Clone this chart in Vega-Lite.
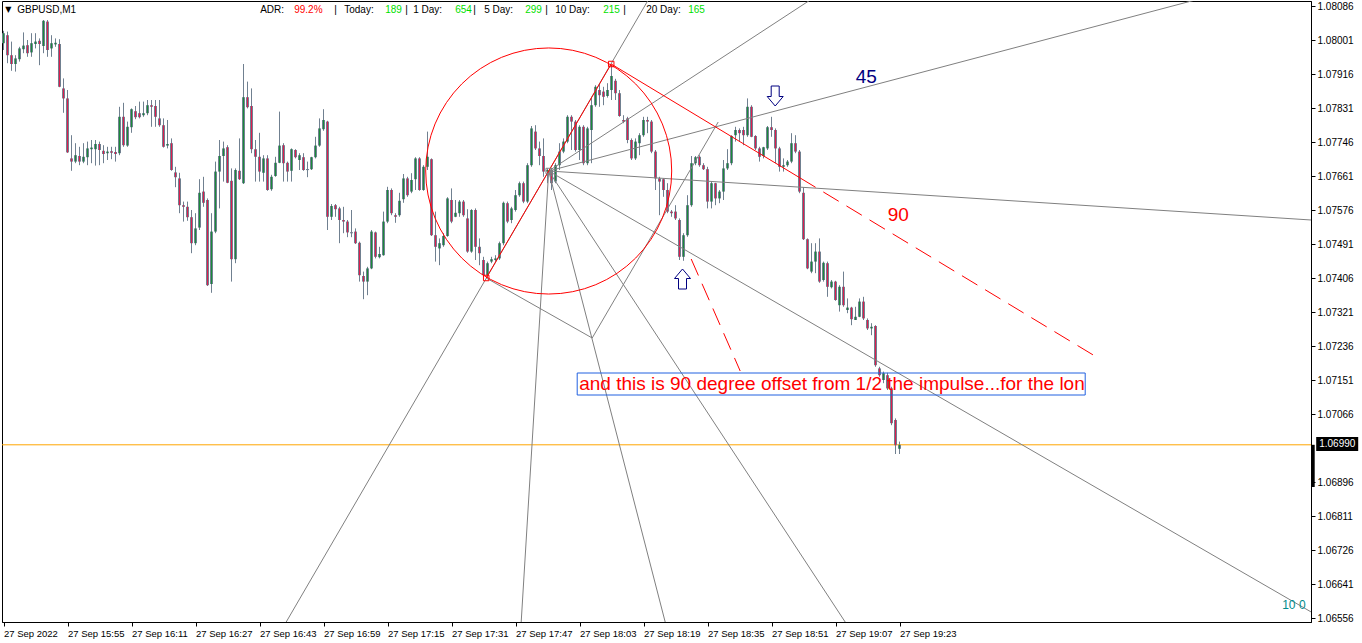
{
"$schema":"https://vega.github.io/schema/vega-lite/v6.json",
"width":1309,"height":621,
"autosize":{"type":"none"},
"padding":{"left":2,"top":1,"right":51,"bottom":21},
"background":"white",
"config":{"view":{"stroke":"black","strokeWidth":1},"scale":{"continuousPadding":0},"font":"Liberation Sans","axis":{"grid":false,"labelFont":"Liberation Sans","labelFontSize":10,"labelColor":"black","tickColor":"black","domainColor":"black","tickSize":4,"labelPadding":2,"labelFlush":false,"labelOverlap":false}},
"datasets":{
"candles":[
{"i":0,"o":1.07994,"h":1.08025,"l":1.07977,"c":1.08019},
{"i":1,"o":1.08014,"h":1.08023,"l":1.07944,"c":1.07964},
{"i":2,"o":1.07964,"h":1.07998,"l":1.07925,"c":1.07942},
{"i":3,"o":1.07942,"h":1.07964,"l":1.07923,"c":1.07956},
{"i":4,"o":1.07954,"h":1.07985,"l":1.07948,"c":1.07981},
{"i":5,"o":1.07979,"h":1.08021,"l":1.07969,"c":1.07988},
{"i":6,"o":1.07989,"h":1.08002,"l":1.0796,"c":1.07969},
{"i":7,"o":1.07971,"h":1.08019,"l":1.0796,"c":1.07994},
{"i":8,"o":1.07992,"h":1.08019,"l":1.07981,"c":1.07998},
{"i":9,"o":1.08,"h":1.08006,"l":1.07939,"c":1.07992},
{"i":10,"o":1.07987,"h":1.08052,"l":1.07969,"c":1.0805},
{"i":11,"o":1.08048,"h":1.08052,"l":1.0796,"c":1.07977},
{"i":12,"o":1.07981,"h":1.08014,"l":1.0796,"c":1.07994},
{"i":13,"o":1.07991,"h":1.08006,"l":1.07985,"c":1.07995},
{"i":14,"o":1.07992,"h":1.08004,"l":1.07884,"c":1.07885},
{"i":15,"o":1.07881,"h":1.07906,"l":1.0782,"c":1.07856},
{"i":16,"o":1.07856,"h":1.07877,"l":1.0772,"c":1.07721},
{"i":17,"o":1.07706,"h":1.07764,"l":1.07675,"c":1.07698},
{"i":18,"o":1.07698,"h":1.07744,"l":1.07694,"c":1.07714},
{"i":19,"o":1.07712,"h":1.07735,"l":1.07689,"c":1.07698},
{"i":20,"o":1.07698,"h":1.07744,"l":1.07694,"c":1.0771},
{"i":21,"o":1.07709,"h":1.07748,"l":1.07689,"c":1.07731},
{"i":22,"o":1.07729,"h":1.07752,"l":1.07694,"c":1.07733},
{"i":23,"o":1.07729,"h":1.07752,"l":1.07688,"c":1.07742},
{"i":24,"o":1.07742,"h":1.07748,"l":1.07689,"c":1.07727},
{"i":25,"o":1.07725,"h":1.07739,"l":1.07694,"c":1.07717},
{"i":26,"o":1.07719,"h":1.07735,"l":1.07702,"c":1.07723},
{"i":27,"o":1.07724,"h":1.07735,"l":1.07704,"c":1.0772},
{"i":28,"o":1.07722,"h":1.07735,"l":1.07698,"c":1.07717},
{"i":29,"o":1.07719,"h":1.07835,"l":1.07714,"c":1.0781},
{"i":30,"o":1.0781,"h":1.07845,"l":1.07735,"c":1.07739},
{"i":31,"o":1.07738,"h":1.07798,"l":1.07735,"c":1.07785},
{"i":32,"o":1.07784,"h":1.07831,"l":1.0777,"c":1.07829},
{"i":33,"o":1.07824,"h":1.07837,"l":1.07804,"c":1.07809},
{"i":34,"o":1.07819,"h":1.07848,"l":1.07806,"c":1.07809},
{"i":35,"o":1.07814,"h":1.07848,"l":1.0781,"c":1.07819},
{"i":36,"o":1.07819,"h":1.07852,"l":1.07814,"c":1.07839},
{"i":37,"o":1.07839,"h":1.07852,"l":1.07785,"c":1.07835},
{"i":38,"o":1.07837,"h":1.07852,"l":1.07785,"c":1.0781},
{"i":39,"o":1.07806,"h":1.07852,"l":1.07785,"c":1.07789},
{"i":40,"o":1.07789,"h":1.07806,"l":1.07733,"c":1.07735},
{"i":41,"o":1.07738,"h":1.07802,"l":1.07731,"c":1.07742},
{"i":42,"o":1.07744,"h":1.07756,"l":1.07675,"c":1.07677},
{"i":43,"o":1.07671,"h":1.07685,"l":1.07634,"c":1.07659},
{"i":44,"o":1.07656,"h":1.0767,"l":1.07569,"c":1.07589},
{"i":45,"o":1.07589,"h":1.07598,"l":1.07548,"c":1.07585},
{"i":46,"o":1.07585,"h":1.07598,"l":1.0755,"c":1.07559},
{"i":47,"o":1.07559,"h":1.07577,"l":1.07469,"c":1.07494},
{"i":48,"o":1.07494,"h":1.07569,"l":1.07489,"c":1.07531},
{"i":49,"o":1.07533,"h":1.07654,"l":1.07527,"c":1.0762},
{"i":50,"o":1.07623,"h":1.0766,"l":1.07585,"c":1.07595},
{"i":51,"o":1.07602,"h":1.07606,"l":1.07387,"c":1.07389},
{"i":52,"o":1.07392,"h":1.07569,"l":1.0737,"c":1.07523},
{"i":53,"o":1.07523,"h":1.07698,"l":1.07519,"c":1.07673},
{"i":54,"o":1.07673,"h":1.07752,"l":1.07581,"c":1.07712},
{"i":55,"o":1.07712,"h":1.07748,"l":1.07648,"c":1.07731},
{"i":56,"o":1.07734,"h":1.07739,"l":1.07644,"c":1.07645},
{"i":57,"o":1.0765,"h":1.07681,"l":1.07398,"c":1.07454},
{"i":58,"o":1.07454,"h":1.07681,"l":1.07444,"c":1.07677},
{"i":59,"o":1.07675,"h":1.07756,"l":1.07652,"c":1.07654},
{"i":60,"o":1.07644,"h":1.07942,"l":1.07642,"c":1.07859},
{"i":61,"o":1.07859,"h":1.07898,"l":1.07831,"c":1.07834},
{"i":62,"o":1.07837,"h":1.07881,"l":1.07719,"c":1.07729},
{"i":63,"o":1.07729,"h":1.07752,"l":1.07648,"c":1.0771},
{"i":64,"o":1.0771,"h":1.0777,"l":1.07648,"c":1.07673},
{"i":65,"o":1.0767,"h":1.07714,"l":1.07648,"c":1.07706},
{"i":66,"o":1.07706,"h":1.07714,"l":1.07625,"c":1.07627},
{"i":67,"o":1.07629,"h":1.07665,"l":1.07625,"c":1.0766},
{"i":68,"o":1.07662,"h":1.0771,"l":1.0766,"c":1.07695},
{"i":69,"o":1.07695,"h":1.07823,"l":1.07694,"c":1.07738},
{"i":70,"o":1.07739,"h":1.07744,"l":1.07648,"c":1.07694},
{"i":71,"o":1.07695,"h":1.07698,"l":1.07648,"c":1.07673},
{"i":72,"o":1.07675,"h":1.07731,"l":1.07648,"c":1.07729},
{"i":73,"o":1.07727,"h":1.07729,"l":1.07706,"c":1.07709},
{"i":74,"o":1.07702,"h":1.07719,"l":1.07677,"c":1.07714},
{"i":75,"o":1.07709,"h":1.07719,"l":1.07675,"c":1.07677},
{"i":76,"o":1.07679,"h":1.07698,"l":1.07659,"c":1.07678},
{"i":77,"o":1.07679,"h":1.0771,"l":1.07677,"c":1.07709},
{"i":78,"o":1.07709,"h":1.0776,"l":1.07706,"c":1.07738},
{"i":79,"o":1.07738,"h":1.07806,"l":1.07735,"c":1.07781},
{"i":80,"o":1.07779,"h":1.07829,"l":1.07775,"c":1.07802},
{"i":81,"o":1.07798,"h":1.078,"l":1.07527,"c":1.0756},
{"i":82,"o":1.0756,"h":1.07592,"l":1.07552,"c":1.07587},
{"i":83,"o":1.07589,"h":1.07592,"l":1.0756,"c":1.07579},
{"i":84,"o":1.07581,"h":1.07585,"l":1.07494,"c":1.07552},
{"i":85,"o":1.07552,"h":1.07585,"l":1.07519,"c":1.07548},
{"i":86,"o":1.07548,"h":1.07552,"l":1.07509,"c":1.07521},
{"i":87,"o":1.07521,"h":1.07577,"l":1.07509,"c":1.0752},
{"i":88,"o":1.07523,"h":1.07531,"l":1.07492,"c":1.07494},
{"i":89,"o":1.07495,"h":1.07498,"l":1.07398,"c":1.07414},
{"i":90,"o":1.07412,"h":1.07423,"l":1.07354,"c":1.07398},
{"i":91,"o":1.07398,"h":1.07435,"l":1.07364,"c":1.07431},
{"i":92,"o":1.07431,"h":1.07527,"l":1.07429,"c":1.07523},
{"i":93,"o":1.07521,"h":1.07523,"l":1.07456,"c":1.0746},
{"i":94,"o":1.07459,"h":1.07485,"l":1.07456,"c":1.07467},
{"i":95,"o":1.07464,"h":1.07573,"l":1.07463,"c":1.07548},
{"i":96,"o":1.07548,"h":1.07635,"l":1.07544,"c":1.07627},
{"i":97,"o":1.07627,"h":1.07631,"l":1.07564,"c":1.07569},
{"i":98,"o":1.07564,"h":1.07569,"l":1.07545,"c":1.0756},
{"i":99,"o":1.07564,"h":1.0762,"l":1.0756,"c":1.076},
{"i":100,"o":1.07604,"h":1.07667,"l":1.07595,"c":1.07656},
{"i":101,"o":1.07656,"h":1.0766,"l":1.0761,"c":1.07614},
{"i":102,"o":1.07623,"h":1.07669,"l":1.07619,"c":1.07652},
{"i":103,"o":1.07654,"h":1.07709,"l":1.07627,"c":1.07706},
{"i":104,"o":1.07706,"h":1.07709,"l":1.07625,"c":1.07627},
{"i":105,"o":1.07627,"h":1.07689,"l":1.07625,"c":1.07685},
{"i":106,"o":1.07685,"h":1.07773,"l":1.07677,"c":1.0771},
{"i":107,"o":1.07704,"h":1.07706,"l":1.07512,"c":1.07514},
{"i":108,"o":1.07514,"h":1.07573,"l":1.07448,"c":1.07485},
{"i":109,"o":1.07481,"h":1.07506,"l":1.07439,"c":1.07494},
{"i":110,"o":1.07489,"h":1.07519,"l":1.07485,"c":1.07512},
{"i":111,"o":1.07512,"h":1.07609,"l":1.0751,"c":1.07606},
{"i":112,"o":1.07602,"h":1.07631,"l":1.07544,"c":1.07548},
{"i":113,"o":1.0756,"h":1.07602,"l":1.07559,"c":1.0757},
{"i":114,"o":1.07569,"h":1.07602,"l":1.0756,"c":1.07598},
{"i":115,"o":1.07598,"h":1.07602,"l":1.0756,"c":1.07564},
{"i":116,"o":1.07556,"h":1.07579,"l":1.0747,"c":1.07473},
{"i":117,"o":1.07473,"h":1.07579,"l":1.0747,"c":1.07577},
{"i":118,"o":1.07577,"h":1.07581,"l":1.07452,"c":1.07485},
{"i":119,"o":1.07485,"h":1.07506,"l":1.07439,"c":1.07469},
{"i":120,"o":1.07452,"h":1.0746,"l":1.0741,"c":1.07414},
{"i":121,"o":1.07414,"h":1.07448,"l":1.0741,"c":1.07444},
{"i":122,"o":1.07448,"h":1.0746,"l":1.07444,"c":1.07454},
{"i":123,"o":1.07452,"h":1.07464,"l":1.07448,"c":1.07456},
{"i":124,"o":1.07456,"h":1.07498,"l":1.07452,"c":1.07494},
{"i":125,"o":1.07494,"h":1.07598,"l":1.07489,"c":1.07595},
{"i":126,"o":1.07594,"h":1.07598,"l":1.07544,"c":1.07548},
{"i":127,"o":1.07552,"h":1.07585,"l":1.07544,"c":1.07581},
{"i":128,"o":1.07577,"h":1.07627,"l":1.07573,"c":1.07614},
{"i":129,"o":1.07614,"h":1.07648,"l":1.0761,"c":1.07644},
{"i":130,"o":1.07644,"h":1.07648,"l":1.07594,"c":1.07598},
{"i":131,"o":1.07598,"h":1.07694,"l":1.07594,"c":1.07689},
{"i":132,"o":1.07689,"h":1.07787,"l":1.07685,"c":1.07781},
{"i":133,"o":1.07773,"h":1.07789,"l":1.07727,"c":1.07731},
{"i":134,"o":1.07731,"h":1.07748,"l":1.07689,"c":1.07712},
{"i":135,"o":1.07712,"h":1.07756,"l":1.0766,"c":1.07673},
{"i":136,"o":1.07673,"h":1.07681,"l":1.07644,"c":1.07677},
{"i":137,"o":1.07677,"h":1.07681,"l":1.07627,"c":1.07644},
{"i":138,"o":1.07648,"h":1.07694,"l":1.07644,"c":1.07689},
{"i":139,"o":1.07689,"h":1.07744,"l":1.07677,"c":1.07723},
{"i":140,"o":1.07723,"h":1.07756,"l":1.07719,"c":1.07748},
{"i":141,"o":1.07748,"h":1.07814,"l":1.07744,"c":1.0781},
{"i":142,"o":1.0781,"h":1.07814,"l":1.07727,"c":1.07798},
{"i":143,"o":1.07798,"h":1.07802,"l":1.07723,"c":1.07727},
{"i":144,"o":1.07727,"h":1.07789,"l":1.07702,"c":1.07785},
{"i":145,"o":1.07785,"h":1.07789,"l":1.07689,"c":1.07694},
{"i":146,"o":1.07694,"h":1.07785,"l":1.07689,"c":1.07781},
{"i":147,"o":1.07777,"h":1.0786,"l":1.07694,"c":1.07839},
{"i":148,"o":1.07839,"h":1.07889,"l":1.07835,"c":1.07885},
{"i":149,"o":1.07877,"h":1.07894,"l":1.07835,"c":1.07864},
{"i":150,"o":1.07873,"h":1.07885,"l":1.07839,"c":1.0786},
{"i":151,"o":1.07862,"h":1.07894,"l":1.07858,"c":1.07877},
{"i":152,"o":1.07877,"h":1.07939,"l":1.07852,"c":1.07912},
{"i":153,"o":1.079,"h":1.07905,"l":1.07852,"c":1.07869},
{"i":154,"o":1.07869,"h":1.07877,"l":1.0781,"c":1.07812},
{"i":155,"o":1.07802,"h":1.07814,"l":1.07794,"c":1.07798},
{"i":156,"o":1.07806,"h":1.0781,"l":1.07744,"c":1.07752},
{"i":157,"o":1.07752,"h":1.07756,"l":1.07702,"c":1.07706},
{"i":158,"o":1.07706,"h":1.07756,"l":1.07702,"c":1.07748},
{"i":159,"o":1.07744,"h":1.07769,"l":1.07714,"c":1.07764},
{"i":160,"o":1.07764,"h":1.0781,"l":1.0776,"c":1.07802},
{"i":161,"o":1.07802,"h":1.0781,"l":1.07769,"c":1.07798},
{"i":162,"o":1.07798,"h":1.07802,"l":1.07719,"c":1.07723},
{"i":163,"o":1.07723,"h":1.07727,"l":1.07627,"c":1.07656},
{"i":164,"o":1.07656,"h":1.0766,"l":1.07564,"c":1.07648},
{"i":165,"o":1.07654,"h":1.07656,"l":1.0761,"c":1.07627},
{"i":166,"o":1.07627,"h":1.07644,"l":1.07569,"c":1.07573},
{"i":167,"o":1.07573,"h":1.07577,"l":1.0756,"c":1.07569},
{"i":168,"o":1.07573,"h":1.07589,"l":1.07552,"c":1.07556},
{"i":169,"o":1.07552,"h":1.07556,"l":1.07452,"c":1.0746},
{"i":170,"o":1.0746,"h":1.07519,"l":1.0745,"c":1.07514},
{"i":171,"o":1.07514,"h":1.07614,"l":1.0751,"c":1.07589},
{"i":172,"o":1.07589,"h":1.07712,"l":1.07585,"c":1.07694},
{"i":173,"o":1.07694,"h":1.07712,"l":1.07689,"c":1.07709},
{"i":174,"o":1.0771,"h":1.07714,"l":1.07685,"c":1.07689},
{"i":175,"o":1.07689,"h":1.07694,"l":1.07677,"c":1.07679},
{"i":176,"o":1.07679,"h":1.07685,"l":1.07581,"c":1.07598},
{"i":177,"o":1.07598,"h":1.07648,"l":1.07581,"c":1.07644},
{"i":178,"o":1.07644,"h":1.07645,"l":1.07589,"c":1.07606},
{"i":179,"o":1.07606,"h":1.07627,"l":1.07594,"c":1.07623},
{"i":180,"o":1.07623,"h":1.07702,"l":1.07602,"c":1.07681},
{"i":181,"o":1.07681,"h":1.07729,"l":1.07677,"c":1.07694},
{"i":182,"o":1.07694,"h":1.07764,"l":1.07689,"c":1.07762},
{"i":183,"o":1.07764,"h":1.07785,"l":1.07748,"c":1.07777},
{"i":184,"o":1.07777,"h":1.07781,"l":1.07748,"c":1.07769},
{"i":185,"o":1.07777,"h":1.07785,"l":1.07739,"c":1.07764},
{"i":186,"o":1.07764,"h":1.07856,"l":1.0776,"c":1.07835},
{"i":187,"o":1.07835,"h":1.07839,"l":1.07759,"c":1.0776},
{"i":188,"o":1.07762,"h":1.07764,"l":1.07727,"c":1.07731},
{"i":189,"o":1.07731,"h":1.07735,"l":1.07698,"c":1.0771},
{"i":190,"o":1.07712,"h":1.07735,"l":1.07706,"c":1.07734},
{"i":191,"o":1.07731,"h":1.07787,"l":1.07727,"c":1.07784},
{"i":192,"o":1.07784,"h":1.0781,"l":1.0776,"c":1.07777},
{"i":193,"o":1.07777,"h":1.07781,"l":1.07694,"c":1.07731},
{"i":194,"o":1.07731,"h":1.07735,"l":1.07673,"c":1.07685},
{"i":195,"o":1.07685,"h":1.07706,"l":1.07673,"c":1.07689},
{"i":196,"o":1.07689,"h":1.07702,"l":1.07685,"c":1.07698},
{"i":197,"o":1.07698,"h":1.07769,"l":1.07694,"c":1.07744},
{"i":198,"o":1.07744,"h":1.07764,"l":1.07719,"c":1.07723},
{"i":199,"o":1.07723,"h":1.07727,"l":1.07619,"c":1.07623},
{"i":200,"o":1.0762,"h":1.07634,"l":1.07502,"c":1.07504},
{"i":201,"o":1.07504,"h":1.07506,"l":1.07429,"c":1.07431},
{"i":202,"o":1.07423,"h":1.07494,"l":1.07419,"c":1.07448},
{"i":203,"o":1.07448,"h":1.07494,"l":1.07419,"c":1.07473},
{"i":204,"o":1.07473,"h":1.07506,"l":1.07395,"c":1.07398},
{"i":205,"o":1.07402,"h":1.07448,"l":1.07398,"c":1.07445},
{"i":206,"o":1.07444,"h":1.07448,"l":1.0736,"c":1.07385},
{"i":207,"o":1.07384,"h":1.07402,"l":1.07381,"c":1.07398},
{"i":208,"o":1.07398,"h":1.074,"l":1.0735,"c":1.07352},
{"i":209,"o":1.07339,"h":1.07389,"l":1.07323,"c":1.07385},
{"i":210,"o":1.07385,"h":1.07423,"l":1.07335,"c":1.07339},
{"i":211,"o":1.07327,"h":1.07356,"l":1.07319,"c":1.07333},
{"i":212,"o":1.07333,"h":1.07335,"l":1.07289,"c":1.07304},
{"i":213,"o":1.07302,"h":1.07335,"l":1.07302,"c":1.0731},
{"i":214,"o":1.0731,"h":1.07356,"l":1.07309,"c":1.07348},
{"i":215,"o":1.07348,"h":1.0736,"l":1.07302,"c":1.07306},
{"i":216,"o":1.07302,"h":1.07306,"l":1.07277,"c":1.07281},
{"i":217,"o":1.07281,"h":1.07294,"l":1.07264,"c":1.07285},
{"i":218,"o":1.07287,"h":1.07289,"l":1.07185,"c":1.07189},
{"i":219,"o":1.07181,"h":1.07185,"l":1.0716,"c":1.07164},
{"i":220,"o":1.07152,"h":1.07173,"l":1.07144,"c":1.07169},
{"i":221,"o":1.07164,"h":1.0717,"l":1.07127,"c":1.07131},
{"i":222,"o":1.07131,"h":1.07135,"l":1.07039,"c":1.07044},
{"i":223,"o":1.07052,"h":1.07056,"l":1.06967,"c":1.06989},
{"i":224,"o":1.0698,"h":1.06998,"l":1.06967,"c":1.0699}
],
"segs":[
{"kind":"gray","x1":70.675,"y1":1.06547,"x2":161.175,"y2":1.08102},
{"kind":"gray","x1":136.3,"y1":1.076745,"x2":201.675,"y2":1.08102},
{"kind":"gray","x1":136.3,"y1":1.076745,"x2":297.925,"y2":1.08102},
{"kind":"gray","x1":136.3,"y1":1.076745,"x2":326.925,"y2":1.07552},
{"kind":"gray","x1":136.3,"y1":1.076745,"x2":326.925,"y2":1.06572},
{"kind":"gray","x1":136.3,"y1":1.076745,"x2":210.425,"y2":1.06547},
{"kind":"gray","x1":136.3,"y1":1.076745,"x2":165.425,"y2":1.06547},
{"kind":"gray","x1":136.3,"y1":1.076745,"x2":129.425,"y2":1.06547},
{"kind":"gray","x1":120.675,"y1":1.07407,"x2":147.175,"y2":1.07257},
{"kind":"gray","x1":147.175,"y1":1.07257,"x2":178.675,"y2":1.07797},
{"kind":"red","x1":120.675,"y1":1.07407,"x2":151.925,"y2":1.07942},
{"kind":"red","x1":151.925,"y1":1.07942,"x2":199.175,"y2":1.07657},
{"kind":"reddash","x1":199.175,"y1":1.07657,"x2":272.425,"y2":1.072145},
{"kind":"reddash","x1":171.925,"y1":1.074545,"x2":184.175,"y2":1.071745}
]
},
"layer":[
{"data":{"name":"candles"},"mark":{"type":"rule","color":"#708090","strokeWidth":1},
 "encoding":{
  "x":{"field":"i","type":"quantitative","scale":{"domain":[-0.375,326.875],"nice":false,"zero":false,"padding":0},
   "axis":{"title":null,"orient":"bottom","labelOverlap":false,"tickCount":100,"labelFontSize":9.5,"values":[0,16,32,48,64,80,96,112,128,144,160,176,192,208,224],"labelAlign":"left","labelAngle":0,
    "labelExpr":"['27 Sep 2022','27 Sep 15:55','27 Sep 16:11','27 Sep 16:27','27 Sep 16:43','27 Sep 16:59','27 Sep 17:15','27 Sep 17:31','27 Sep 17:47','27 Sep 18:03','27 Sep 18:19','27 Sep 18:35','27 Sep 18:51','27 Sep 19:07','27 Sep 19:23'][round(datum.value/16)]"}},
  "y":{"field":"l","type":"quantitative","scale":{"domain":[1.06547,1.080995],"nice":false,"zero":false,"padding":0},
   "axis":{"title":null,"orient":"right","format":".5f","labelOverlap":false,"tickCount":100,"values":[1.08086,1.08001,1.07916,1.07831,1.07746,1.07661,1.07576,1.07491,1.07406,1.07321,1.07236,1.07151,1.07066,1.06896,1.06811,1.06726,1.06641,1.06556]}},
  "y2":{"field":"h"}}},
{"data":{"values":[{"p":1.0699}]},"mark":{"type":"rule","color":"#ffa500","strokeWidth":1},
 "encoding":{"y":{"field":"p","type":"quantitative","title":null}}},
{"data":{"name":"candles"},"mark":{"type":"bar","color":"#708090"},
 "encoding":{
  "x":{"field":"i","type":"quantitative","title":null},
  "y":{"field":"o","type":"quantitative","title":null},
  "y2":{"field":"c"},
  "size":{"value":3}}},
{"data":{"name":"candles"},"mark":{"type":"bar"},
 "encoding":{
  "x":{"field":"i","type":"quantitative","title":null},
  "y":{"field":"o","type":"quantitative","title":null},
  "y2":{"field":"c"},
  "size":{"value":1},
  "color":{"condition":{"test":"datum.c >= datum.o","value":"#1a8a3a"},"value":"#dc1e4e"}}},
{"data":{"name":"candles"},"transform":[{"filter":"abs(datum.o - datum.c) < 0.00003"}],"mark":{"type":"tick","orient":"horizontal","color":"#708090","thickness":1,"size":3,"opacity":1},
 "encoding":{
  "x":{"field":"i","type":"quantitative","title":null},
  "y":{"field":"c","type":"quantitative","title":null}}},
{"data":{"name":"segs"},"transform":[{"filter":"datum.kind == 'gray'"}],"mark":{"type":"rule","color":"#808080","strokeWidth":1,"clip":true},
 "encoding":{"x":{"field":"x1","type":"quantitative","title":null},"y":{"field":"y1","type":"quantitative","title":null},"x2":{"field":"x2"},"y2":{"field":"y2"}}},
{"data":{"name":"segs"},"transform":[{"filter":"datum.kind == 'red'"}],"mark":{"type":"rule","color":"#ff0000","strokeWidth":1,"clip":true},
 "encoding":{"x":{"field":"x1","type":"quantitative","title":null},"y":{"field":"y1","type":"quantitative","title":null},"x2":{"field":"x2"},"y2":{"field":"y2"}}},
{"data":{"name":"segs"},"transform":[{"filter":"datum.kind == 'reddash'"}],"mark":{"type":"rule","color":"#ff0000","strokeWidth":1,"strokeDash":[18,9],"clip":true},
 "encoding":{"x":{"field":"x1","type":"quantitative","title":null},"y":{"field":"y1","type":"quantitative","title":null},"x2":{"field":"x2"},"y2":{"field":"y2"}}},
{"data":{"values":[{"x":136.3,"y":1.076745}]},"mark":{"type":"point","shape":"circle","size":60516,"filled":false,"stroke":"#ff0000","strokeWidth":1,"opacity":1},
 "encoding":{"x":{"field":"x","type":"quantitative","title":null},"y":{"field":"y","type":"quantitative","title":null}}},
{"data":{"values":[{"x":120.675,"y":1.07407},{"x":151.925,"y":1.07942}]},"mark":{"type":"point","shape":"square","size":30,"filled":false,"stroke":"#ff0000","strokeWidth":1,"opacity":1},
 "encoding":{"x":{"field":"x","type":"quantitative","title":null},"y":{"field":"y","type":"quantitative","title":null}}},
{"data":{"values":[{"x":136.3,"y":1.076745}]},"mark":{"type":"point","shape":"square","size":30,"filled":false,"stroke":"#808080","strokeWidth":1,"opacity":1},
 "encoding":{"x":{"field":"x","type":"quantitative","title":null},"y":{"field":"y","type":"quantitative","title":null}}},
{"data":{"values":[{"x":192.925,"y":1.07862}]},"mark":{"type":"point","shape":"M-0.4,-1L0.4,-1L0.4,0.05L0.8,0.05L0,1L-0.8,0.05L-0.4,0.05Z","size":400,"filled":false,"stroke":"#000080","strokeWidth":1,"opacity":1},
 "encoding":{"x":{"field":"x","type":"quantitative","title":null},"y":{"field":"y","type":"quantitative","title":null}}},
{"data":{"values":[{"x":169.75,"y":1.074045}]},"mark":{"type":"point","shape":"M-0.4,1L0.4,1L0.4,-0.05L0.8,-0.05L0,-1L-0.8,-0.05L-0.4,-0.05Z","size":400,"filled":false,"stroke":"#000080","strokeWidth":1,"opacity":1},
 "encoding":{"x":{"field":"x","type":"quantitative","title":null},"y":{"field":"y","type":"quantitative","title":null}}},
{"data":{"values":[{"x":143.425,"y":1.071695,"x2":270.425,"y2":1.071145}]},"mark":{"type":"rect","fill":null,"fillOpacity":0,"stroke":"#2060e0","strokeWidth":1},
 "encoding":{"x":{"field":"x","type":"quantitative","title":null},"y":{"field":"y","type":"quantitative","title":null},"x2":{"field":"x2"},"y2":{"field":"y2"}}},
{"data":{"values":[{"x":143.925,"y":1.07142,"t":"and this is 90 degree offset from 1/2 the impulse...for the lon"}]},"mark":{"type":"text","align":"left","baseline":"middle","font":"Liberation Sans","fontSize":19,"color":"#ff0000"},
 "encoding":{"x":{"field":"x","type":"quantitative","title":null},"y":{"field":"y","type":"quantitative","title":null},"text":{"field":"t"}}},
{"data":{"values":[{"x":215.675,"y":1.079095,"t":"45"}]},"mark":{"type":"text","align":"center","baseline":"middle","font":"Liberation Sans","fontSize":19,"color":"#000080"},
 "encoding":{"x":{"field":"x","type":"quantitative","title":null},"y":{"field":"y","type":"quantitative","title":null},"text":{"field":"t"}}},
{"data":{"values":[{"x":223.675,"y":1.075645,"t":"90"}]},"mark":{"type":"text","align":"center","baseline":"middle","font":"Liberation Sans","fontSize":19,"color":"#ff0000"},
 "encoding":{"x":{"field":"x","type":"quantitative","title":null},"y":{"field":"y","type":"quantitative","title":null},"text":{"field":"t"}}},
{"data":{"values":[{"x":319.675,"y":1.065895,"t":"10 0"}]},"mark":{"type":"text","align":"left","baseline":"middle","font":"Liberation Sans","fontSize":12,"color":"#008b8b"},
 "encoding":{"x":{"field":"x","type":"quantitative","title":null},"y":{"field":"y","type":"quantitative","title":null},"text":{"field":"t"}}},
{"data":{"values":[{"x":0.425,"y":1.08077,"t":"▼"}]},"mark":{"type":"text","align":"left","baseline":"middle","font":"DejaVu Sans","fontSize":8,"color":"black"},
 "encoding":{"x":{"field":"x","type":"quantitative","title":null},"y":{"field":"y","type":"quantitative","title":null},"text":{"field":"t"}}},
{"data":{"values":[{"x":3.425,"y":1.08077,"t":"GBPUSD,M1"},{"x":64.175,"y":1.08077,"t":"ADR:"},{"x":82.675,"y":1.08077,"t":"|"},{"x":85.175,"y":1.08077,"t":"Today:"},{"x":100.425,"y":1.08077,"t":"|"},{"x":102.425,"y":1.08077,"t":"1 Day:"},{"x":117.425,"y":1.08077,"t":"|"},{"x":120.175,"y":1.08077,"t":"5 Day:"},{"x":135.425,"y":1.08077,"t":"|"},{"x":137.925,"y":1.08077,"t":"10 Day:"},{"x":154.925,"y":1.08077,"t":"|"},{"x":160.675,"y":1.08077,"t":"20 Day:"}]},
 "mark":{"type":"text","align":"left","baseline":"middle","font":"Liberation Sans","fontSize":10,"color":"black"},
 "encoding":{"x":{"field":"x","type":"quantitative","title":null},"y":{"field":"y","type":"quantitative","title":null},"text":{"field":"t"}}},
{"data":{"values":[{"x":72.675,"y":1.08077,"t":"99.2%"}]},
 "mark":{"type":"text","align":"left","baseline":"middle","font":"Liberation Sans","fontSize":10,"color":"#ff0000"},
 "encoding":{"x":{"field":"x","type":"quantitative","title":null},"y":{"field":"y","type":"quantitative","title":null},"text":{"field":"t"}}},
{"data":{"values":[{"x":95.425,"y":1.08077,"t":"189"},{"x":112.925,"y":1.08077,"t":"654"},{"x":130.425,"y":1.08077,"t":"299"},{"x":149.925,"y":1.08077,"t":"215"},{"x":171.175,"y":1.08077,"t":"165"}]},
 "mark":{"type":"text","align":"left","baseline":"middle","font":"Liberation Sans","fontSize":10,"color":"#00e000"},
 "encoding":{"x":{"field":"x","type":"quantitative","title":null},"y":{"field":"y","type":"quantitative","title":null},"text":{"field":"t"}}},
{"data":{"values":[{"x":327.425,"y":1.0699,"y2":1.068845}]},"mark":{"type":"rule","color":"black","strokeWidth":3},
 "encoding":{"x":{"field":"x","type":"quantitative","title":null},"y":{"field":"y","type":"quantitative","title":null},"y2":{"field":"y2"}}},
{"data":{"values":[{"x":328.175,"y":1.070095,"x2":338.675,"y2":1.069745}]},"mark":{"type":"rect","color":"black"},
 "encoding":{"x":{"field":"x","type":"quantitative","title":null},"y":{"field":"y","type":"quantitative","title":null},"x2":{"field":"x2"},"y2":{"field":"y2"}}},
{"data":{"values":[{"x":328.925,"y":1.06992,"t":"1.06990"}]},"mark":{"type":"text","align":"left","baseline":"middle","font":"Liberation Sans","fontSize":10,"color":"white"},
 "encoding":{"x":{"field":"x","type":"quantitative","title":null},"y":{"field":"y","type":"quantitative","title":null},"text":{"field":"t"}}}
]
}
